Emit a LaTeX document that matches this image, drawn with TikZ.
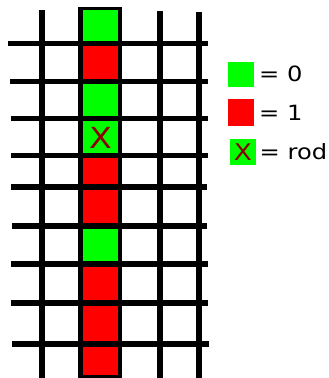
\documentclass[tikz,border=0pt]{standalone}
\usepackage{fontspec}
\setmainfont{DejaVu Sans}
\newfontfamily\keyfont[FakeStretch=1.15]{DejaVu Sans}
\usetikzlibrary{positioning}
\definecolor{cellgreen}{RGB}{0,255,0}
\definecolor{cellred}{RGB}{255,0,0}
\definecolor{rodmark}{RGB}{140,0,0}

\begin{document}
\begin{tikzpicture}[x=1pt, y=-1pt, every node/.style={font=\keyfont\fontsize{21}{24}\selectfont},
	bar/.style={line width=5.5pt}, key/.style={inner sep=0pt, minimum width=26pt, minimum height=25pt}]
	\useasboundingbox (0,0) rectangle (329,378);
	% vertical grid lines
	\draw[bar] (42,10) -- (42,378);
	\draw[bar] (160,11) -- (160,378);
	\draw[bar] (199,12) -- (199,378);
	% the column of cells
	\fill (78,7) rectangle (122,378);
	\foreach \t/\b/\c in {10/43.7/cellgreen, 43.7/81.3/cellred, 81.3/118.7/cellgreen, 118.7/155.5/cellgreen,
		155.5/187/cellred, 187/226/cellred, 226/264/cellgreen, 264/303/cellred, 303/344/cellred, 344/375/cellred}
		\fill[\c] (82.5,\t) rectangle (118,\b);
	% horizontal grid lines
	\foreach \y/\a/\e in {43.7/8/208, 81.3/10/208, 118.7/11/208, 155.5/11/208, 187/11/207,
		226/12/207, 264/11/208, 303/11/208, 344/12/209}
		\draw[bar] (\a,\y) -- (\e,\y);
	\node[text=rodmark, font=\keyfont\fontsize{29}{30}\selectfont] (rod) at (100.5,137.5) {X};
	% legend
	\node[key, fill=cellgreen] (key0) at (241,74) {};
	\node[right=1.5pt of key0] (lab0) {= 0};
	\node[key, fill=cellred, minimum height=27pt] (key1) at (241,112.5) {};
	\node[right=1.5pt of key1] (lab1) {= 1};
	\node[key, fill=cellgreen, minimum height=26pt, text=rodmark, font=\keyfont\fontsize{23}{24}\selectfont] (keyrod) at (243,152) {X};
	\node[right=0pt of keyrod] (labrod) {= rod};
\end{tikzpicture}
\end{document}
